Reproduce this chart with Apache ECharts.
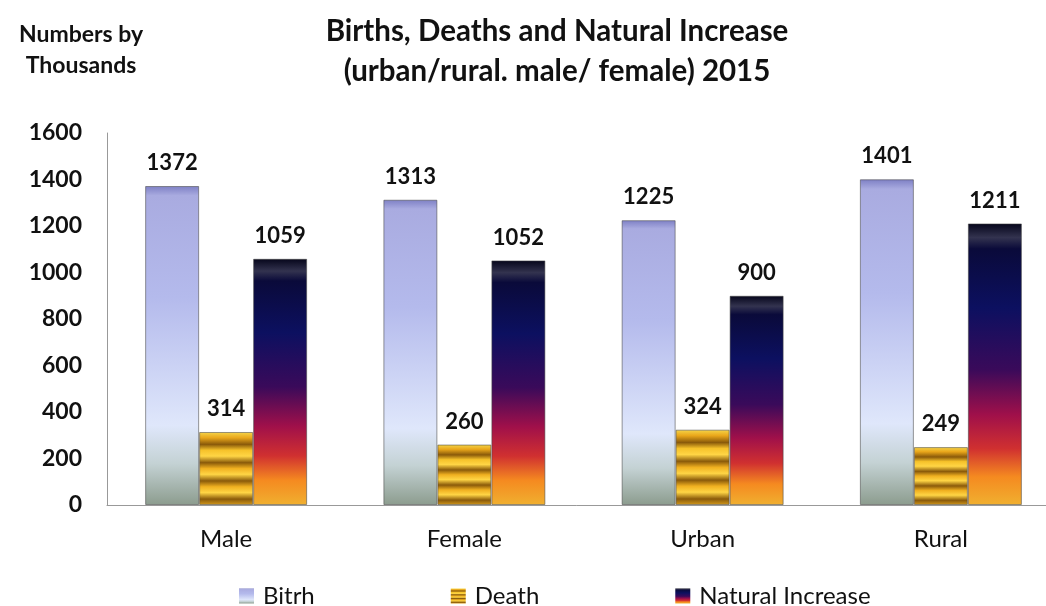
<!DOCTYPE html>
<html>
<head>
<meta charset="utf-8">
<script src="https://cdn.jsdelivr.net/npm/echarts@6/dist/echarts.min.js"></script>
<style>
    html, body { margin: 0; padding: 0; background: #fff; }
    #E1 { width: 1046px; height: 606px; }
</style>
</head>
<body>
<div id="E1"></div>
<script>
var categories = ['Male', 'Female', 'Urban', 'Rural'];
var seriesNames = ['Bitrh', 'Death', 'Natural Increase'];
var birthValues = [1372, 1313, 1225, 1401];
var deathValues = [314, 260, 324, 249];
var increaseValues = [1059, 1052, 900, 1211];

~function () {
    var myChart = echarts.init(E1);
    var font = 'Lato, "Open Sans", sans-serif';

    function vgrad(stops) {
        return {
            type: 'linear', x: 0, y: 0, x2: 0, y2: 1,
            colorStops: stops.map(function (s) { return {offset: s[0], color: s[1]}; })
        };
    }

    var birthColor = vgrad([
        [0, '#7d7fc4'], [0.03, '#a9abe0'], [0.35, '#b4baec'],
        [0.75, '#dfe7fb'], [0.87, '#c4d2d4'], [1, '#8c9c8e']
    ]);
    var deathColor = vgrad([
        [0, '#f6d64a'], [0.08, '#e9a61a'], [0.17, '#8a5a0a'], [0.25, '#f6c22a'],
        [0.33, '#ffd545'], [0.42, '#8a5a0a'], [0.5, '#f0b020'], [0.58, '#ffd545'],
        [0.67, '#8a5a0a'], [0.75, '#f0b020'], [0.83, '#ffd545'], [0.92, '#8a5a0a'], [1, '#d49a1a']
    ]);
    var increaseColor = vgrad([
        [0, '#05051a'], [0.05, '#33334f'], [0.09, '#0a0a3a'], [0.3, '#0c1060'],
        [0.52, '#3a0a5a'], [0.68, '#a0104a'], [0.8, '#d03030'], [0.9, '#f58a20'], [1, '#f0b030']
    ]);

    var labelStyle = {
        show: true,
        position: 'top',
        distance: 12,
        fontFamily: font,
        fontWeight: 'bold',
        fontSize: 22,
        color: '#111'
    };

    function makeSeries(name, data, color) {
        return {
            name: name,
            type: 'bar',
            barGap: '0%',
            barWidth: 54,
            itemStyle: {
                color: color,
                borderColor: 'rgba(70,70,70,0.55)',
                borderWidth: 1
            },
            label: labelStyle,
            data: data
        };
    }

    var option = {
        backgroundColor: '#fff',
        animation: false,
        title: [
            {
                text: 'Births, Deaths and Natural Increase\n(urban/rural. male/ female) 2015',
                left: 552,
                top: 6,
                textAlign: 'center',
                textStyle: {
                    fontFamily: font,
                    fontWeight: 'bold',
                    fontSize: 29.5,
                    lineHeight: 40,
                    color: '#111'
                }
            },
            {
                text: 'Numbers by\nThousands',
                left: 76,
                top: 14,
                textAlign: 'center',
                textStyle: {
                    fontFamily: font,
                    fontWeight: 'bold',
                    fontSize: 23,
                    lineHeight: 31,
                    color: '#111'
                }
            }
        ],
        legend: {
            top: 579,
            left: 234,
            itemGap: 136,
            itemWidth: 15,
            itemHeight: 15,
            icon: 'rect',
            itemStyle: {borderWidth: 0},
            textStyle: {fontFamily: font, fontSize: 24, color: '#111', padding: [0, 0, 0, 4]},
            data: seriesNames
        },
        grid: {
            left: 107,
            right: -14,
            top: 133,
            bottom: 101,
            outerBoundsMode: 'none'
        },
        xAxis: [
            {
                type: 'category',
                data: categories,
                axisTick: {show: false},
                axisLine: {lineStyle: {color: '#999'}},
                axisLabel: {fontFamily: font, fontSize: 24, color: '#111', margin: 22}
            }
        ],
        yAxis: [
            {
                type: 'value',
                min: 0,
                max: 1600,
                interval: 200,
                splitLine: {show: false},
                axisTick: {show: false},
                axisLine: {show: true, lineStyle: {color: '#999'}},
                axisLabel: {
                    fontFamily: font, fontWeight: 'bold', fontSize: 23, color: '#111', margin: 25,
                    formatter: function (v) { return String(v); }
                }
            }
        ],
        series: [
            makeSeries(seriesNames[0], birthValues, birthColor),
            makeSeries(seriesNames[1], deathValues, deathColor),
            makeSeries(seriesNames[2], increaseValues, increaseColor)
        ]
    };

    myChart.setOption(option);
}();
</script>
</body>
</html>
